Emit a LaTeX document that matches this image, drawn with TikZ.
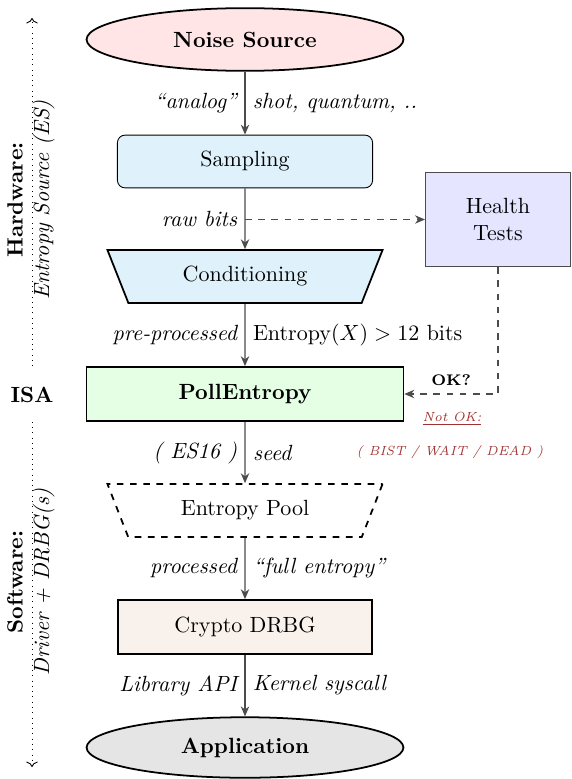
\documentclass[tikz,border=0pt]{standalone}
\usepackage{xcolor}
\usetikzlibrary{shapes.geometric, arrows.meta}
\definecolor{samplefill}{HTML}{DFF1FA}
\definecolor{warnred}{HTML}{A33030}

\begin{document}
\begin{tikzpicture}[x=0.4545pt, y=-0.4545pt,
  conn/.style={draw=black!70, line width=0.6pt, -{Stealth[length=4.5pt, width=3.8pt, inset=1.4pt]}},
  side/.style={font=\itshape},
  warn/.style={font=\fontsize{6}{7}\selectfont\itshape, text=warnred},
  trap/.style={trapezium, trapezium angle=59, trapezium stretches body, shape border rotate=180, minimum width=125pt, minimum height=24pt}]
\useasboundingbox (0,0) rectangle (571,779);
\node[ellipse, draw, thick, fill=red!10, minimum width=144pt, minimum height=28.5pt, font=\bfseries] (noise) at (245,39.5) {Noise Source};
\node[rounded corners=3.5pt, draw, fill=samplefill, minimum width=116pt, minimum height=24pt] (sampling) at (245,161.5) {Sampling};
\node[trap, draw, thick, fill=samplefill] (cond) at (245,276.5) {Conditioning};
\node[draw=black!70, fill=blue!10, minimum width=66pt, minimum height=43pt, align=center] (health) at (498,219.5) {Health\\Tests};
\node[draw, thick, fill=green!10, minimum width=144pt, minimum height=24.5pt, font=\bfseries] (poll) at (245,394) {PollEntropy};
\node[trap, draw, thick, dashed] (pool) at (245,510.5) {Entropy Pool};
\node[draw, thick, fill=brown!10, minimum width=115.5pt, minimum height=24.5pt] (drbg) at (245,627) {Crypto DRBG};
\node[ellipse, draw, thick, fill=black!10, minimum width=144pt, minimum height=27.5pt, font=\bfseries] (app) at (245,747.5) {Application};

\draw[conn] (noise) -- (sampling) node[midway, left, side] {``analog''} node[midway, right, side] {shot, quantum, ..};
\draw[conn] (sampling) -- (cond) node[midway, left, side] {raw bits};
\draw[conn] (cond) -- (poll) node[midway, left, side] {pre-processed} node[midway, right] {Entropy$(X) > 12$ bits};
\draw[conn] (poll) -- (pool) node[midway, left, side] {( ES16 )} node[midway, right, side] {seed};
\draw[conn] (pool) -- (drbg) node[midway, left, side] {processed} node[midway, right, side] {``full entropy''};
\draw[conn] (drbg) -- (app) node[midway, left, side] {Library API} node[midway, right, side] {Kernel syscall};

\draw[conn, dashed] (sampling.south |- health.west) -- (health.west);
\draw[conn, dashed] (health.south) |- (poll.east) node[pos=0.75, above, font=\scriptsize\bfseries] {OK?};
\node[warn] (notok) at (452,419) {\underline{Not OK:}};
\node[warn] (bist) at (450,452) {( BIST / WAIT / DEAD )};

\node[font=\bfseries] (isa) at (32,395) {ISA};
\coordinate (top) at (32,18);
\coordinate (bottom) at (32,767);
\draw[dotted, ->] (poll.north -| isa) -- (top);
\draw[dotted, ->] (poll.south -| isa) -- (bottom);
\node[rotate=90, align=center] (hw) at (31,200) {\textbf{Hardware:}\\\textit{Entropy Source (ES)}};
\node[rotate=90, align=center] (sw) at (31,582) {\textbf{Software:}\\\textit{Driver + DRBG(s)}};
\end{tikzpicture}
\end{document}
